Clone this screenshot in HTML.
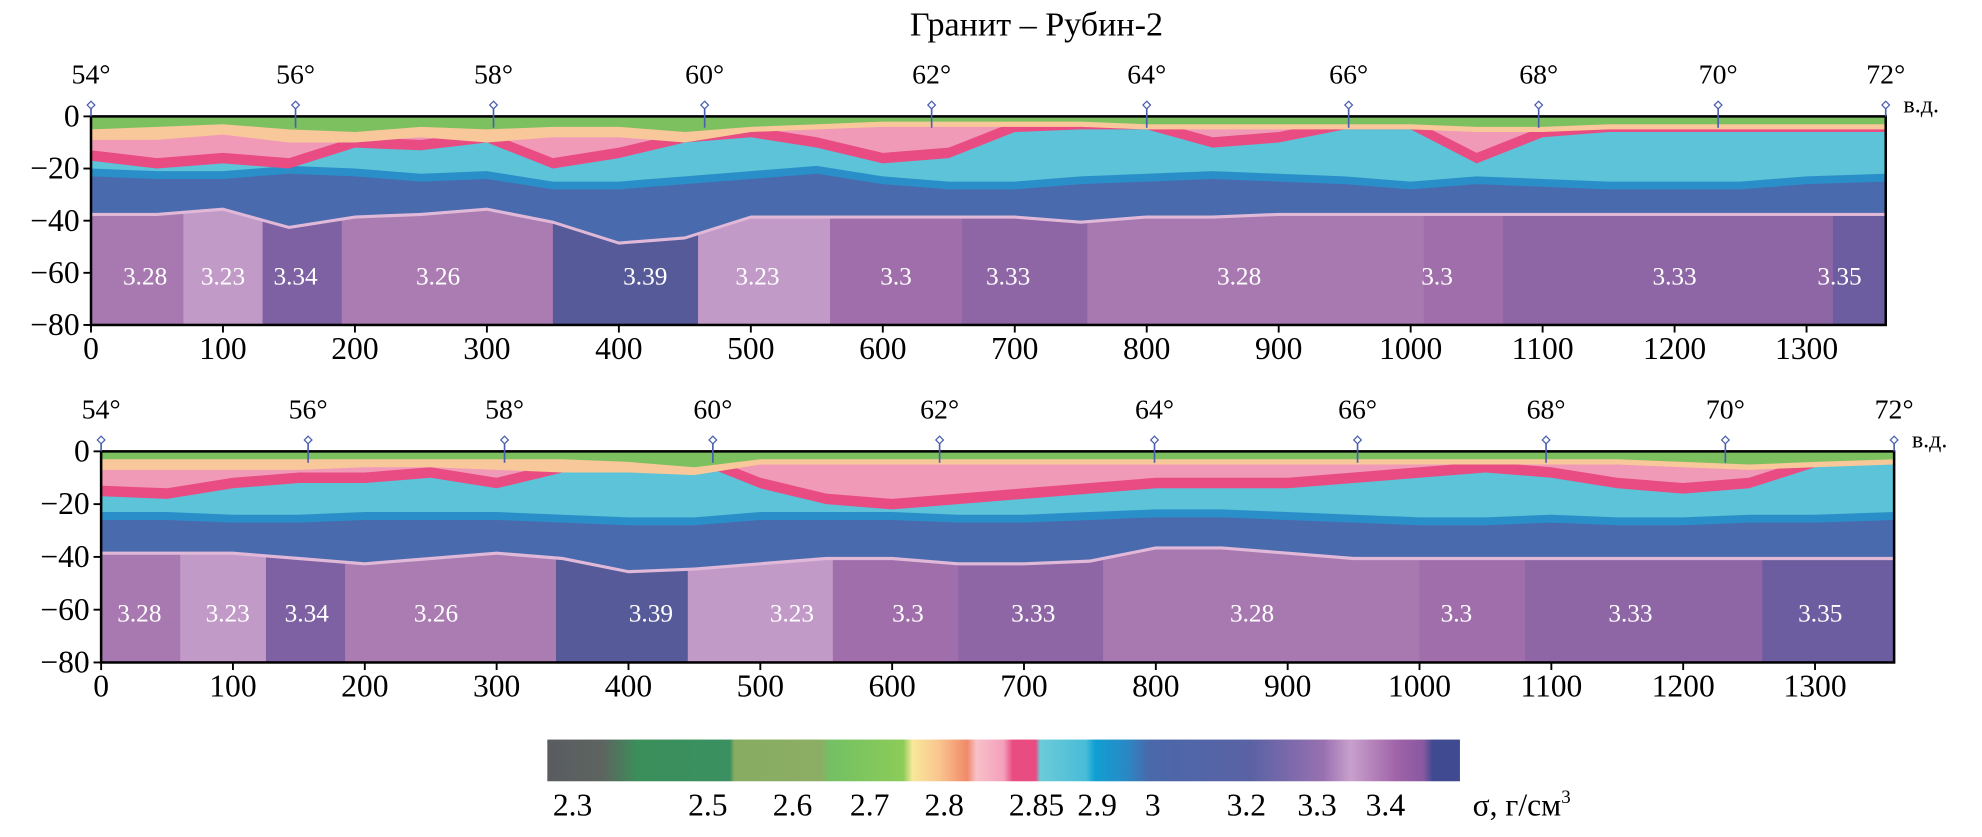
<!DOCTYPE html>
<html><head><meta charset="utf-8"><style>
html,body{margin:0;padding:0;background:#fff;}
svg, svg text{font-family:"Liberation Serif","DejaVu Serif",serif;}
svg{display:block;}
</style></head><body>
<svg id="chart" width="1982" height="837" viewBox="0 0 1568 662" xmlns="http://www.w3.org/2000/svg" font-family="Liberation Serif, DejaVu Serif, serif">
<defs>
<linearGradient id="cbar" x1="0" x2="1" y1="0" y2="0">
<stop offset="0" stop-color="#5a5c60"/><stop offset="0.06" stop-color="#5d6460"/>
<stop offset="0.1" stop-color="#3a8f5a"/><stop offset="0.2" stop-color="#3a9060"/>
<stop offset="0.205" stop-color="#86ac62"/><stop offset="0.3" stop-color="#8cae64"/>
<stop offset="0.31" stop-color="#74c064"/><stop offset="0.39" stop-color="#8ccc58"/>
<stop offset="0.4" stop-color="#f8e89a"/><stop offset="0.43" stop-color="#f9c48e"/>
<stop offset="0.46" stop-color="#f08a6a"/><stop offset="0.47" stop-color="#f8c0c8"/>
<stop offset="0.5" stop-color="#f4a0bc"/><stop offset="0.51" stop-color="#e84c80"/>
<stop offset="0.535" stop-color="#e84c80"/><stop offset="0.54" stop-color="#6ccbd8"/>
<stop offset="0.59" stop-color="#48bcd8"/><stop offset="0.6" stop-color="#10a0d4"/>
<stop offset="0.635" stop-color="#2a88c4"/><stop offset="0.66" stop-color="#4a68aa"/>
<stop offset="0.77" stop-color="#5a62a4"/><stop offset="0.85" stop-color="#9870b0"/>
<stop offset="0.88" stop-color="#c8a0cc"/><stop offset="0.93" stop-color="#a064a8"/>
<stop offset="0.96" stop-color="#8858a0"/><stop offset="0.97" stop-color="#404a90"/>
<stop offset="1" stop-color="#404a90"/>
</linearGradient>
</defs>
<text x="820" y="28" font-size="27" text-anchor="middle" font-family="Liberation Serif, serif">Гранит – Рубин-2</text>
<g id="panels"></g>
<g>
<rect x="433" y="585" width="722" height="33" fill="url(#cbar)"/>
</g>
<g id="cbticks"></g>
</svg>
<script>
const kmGrid = [0,50,100,150,200,250,300,350,400,450,500,550,600,650,700,750,800,850,900,950,1000,1050,1100,1150,1200,1250,1300,1360];
// top panel boundaries (depth km)
const topGreen = [5,4,3,5,6,4,5,4,4,6,4,3,2,2,2,2,3,3,3,3,3,4,4,3,3,3,3,3];
const topPeach = [9,9,7,10,10,8,10,8,8,10,6,5,4,4,4,4,5,5,5,5,5,6,6,5,5,5,5,5];
const topPink  = [17,20,18,20,12,13,10,20,16,10,8,12,18,16,6,5,5,12,10,5,5,18,8,6,6,6,6,6];
const topCyan  = [23,24,24,22,23,25,24,28,28,26,24,22,26,28,28,26,25,24,25,26,28,26,27,28,28,28,26,25];
const topMantle= [37,37,35,42,38,37,35,40,48,46,38,38,38,38,38,40,38,38,37,37,37,37,37,37,37,37,37,37];
// bottom panel boundaries
const botGreen = [3,3,3,3,3,3,3,3,4,6,3,3,3,3,3,3,3,3,3,3,3,3,3,3,4,5,4,3];
const botPeach = [7,7,7,7,6,6,7,8,8,9,5,5,5,5,5,5,5,5,5,5,5,5,5,5,6,7,6,5];
const botPink  = [17,18,14,12,12,10,14,8,6,4,14,20,22,20,18,16,14,14,14,12,10,8,10,14,16,14,6,4];
const botCyan  = [26,26,27,27,26,26,26,27,28,28,26,26,26,27,27,26,25,25,26,27,28,28,27,28,28,27,27,26];
const botMantle= [38,38,38,40,42,40,38,40,45,44,42,40,40,42,42,41,36,36,38,40,40,40,40,40,40,40,40,40];
// mantle blocks
const blockStart = [0,70,130,190,350,460,560,660,755,1010,1070,1320];
const blockEnd   = [70,130,190,350,460,560,660,755,1010,1070,1320,1360];
const blockVal   = [3.28,3.23,3.34,3.26,3.39,3.23,3.3,3.33,3.28,3.3,3.33,3.35];
const botBlockStart = [0,60,125,185,345,445,555,650,760,1000,1080,1260];
const botBlockEnd   = [60,125,185,345,445,555,650,760,1000,1080,1260,1360];
const labelKmTop = [41,100,155,263,420,505,610,695,870,1020,1200,1325];
const labelKmBot = [29,96,156,254,417,524,612,707,873,1028,1160,1304];
const xTicks = [0,100,200,300,400,500,600,700,800,900,1000,1100,1200,1300];
const yTicks = [0,-20,-40,-60,-80];
const degLabels = ["54°","56°","58°","60°","62°","64°","66°","68°","70°","72°"];
const degKmTop = [0,155,305,465,637,800,953,1097,1233,1360];
const degKmBot = [0,157,306,464,636,799,953,1096,1232,1360];
const cbLabels = ["2.3","2.5","2.6","2.7","2.8","2.85","2.9","3","3.2","3.3","3.4"];
const cbPos = [453,560,627,688,747,820,868,912,986,1042,1096];

const NS="http://www.w3.org/2000/svg";
const FF="Liberation Serif, DejaVu Serif, serif";
function mk(tag,attrs,parent){const e=document.createElementNS(NS,tag);for(const k in attrs)e.setAttribute(k,attrs[k]);if(tag==='text')e.setAttribute('font-family',FF);parent.appendChild(e);return e;}
function valColor(v){
  const stops=[[3.23,[194,154,200]],[3.26,[170,124,178]],[3.28,[168,120,176]],[3.3,[160,110,170]],[3.33,[142,102,166]],[3.35,[108,92,160]],[3.39,[86,90,152]]];
  if(v<=stops[0][0])return 'rgb('+stops[0][1]+')';
  for(let i=1;i<stops.length;i++){if(v<=stops[i][0]){const t=(v-stops[i-1][0])/(stops[i][0]-stops[i-1][0]);const c=stops[i-1][1].map((a,j)=>Math.round(a+(stops[i][1][j]-a)*t));return 'rgb('+c+')';}}
  return 'rgb('+stops[stops.length-1][1]+')';
}
const panels=document.getElementById('panels');
function drawPanel(cfg){
  const g=mk('g',{},panels);
  
  
  const X=km=>cfg.x0+km*cfg.pxPerKm;
  const Y=d=>cfg.y0+d*cfg.pxPerDepth;
  const xR=X(1360), yB=Y(80);
  for(let i=0;i<blockVal.length;i++){
    const r=mk('rect',{x:X(cfg.bs[i]),y:cfg.y0,width:X(cfg.be[i])-X(cfg.bs[i])+0.5,height:yB-cfg.y0,fill:valColor(blockVal[i])},g);
    
    
  }
  const layers=[[cfg.mantle,'#e0b8d8',1.2],[cfg.mantle,'#4a6aae',0],[cfg.cyan,'#2a8fc8',0],[cfg.cyan,'#5cc3d8',-3],[cfg.pink,'#e84c82',0],[cfg.pink,'#f09ab8',-4],[cfg.peach,'#f8c89a',0],[cfg.green,'#7cc060',0]];
  layers.forEach(([arr,col,off])=>{
    let d='M'+X(0)+','+cfg.y0;
    for(let i=0;i<kmGrid.length;i++)d+=' L'+X(kmGrid[i])+','+Y(Math.max(0,arr[i]+off));
    d+=' L'+xR+','+cfg.y0+' Z';
    const p=mk('path',{d:d,fill:col},g);
    
    
  });
  for(let i=0;i<blockVal.length;i++){
    const t=mk('text',{x:X(cfg.lk[i]),y:Y(64.5),'font-size':20,fill:'#fff','text-anchor':'middle'},g);
    t.textContent=blockVal[i];
    
    
  }
  const f=mk('rect',{x:X(0),y:cfg.y0,width:xR-X(0),height:yB-cfg.y0,fill:'none',stroke:'#000','stroke-width':2},g);
  
  
  xTicks.forEach(v=>{
    mk('line',{x1:X(v),x2:X(v),y1:yB,y2:yB+6,stroke:'#000','stroke-width':1.5},g);
    const t=mk('text',{x:X(v),y:yB+27,'font-size':25,'text-anchor':'middle'},g);
    t.textContent=v;
    
    
  });
  yTicks.forEach(v=>{
    const yy=Y(-v);
    mk('line',{x1:X(0)-6,x2:X(0),y1:yy,y2:yy,stroke:'#000','stroke-width':1.5},g);
    const t=mk('text',{x:X(0)-9,y:yy+8,'font-size':25,'text-anchor':'end'},g);
    t.textContent=v===0?'0':'\u2212'+(-v);
    
    
  });
  degLabels.forEach((s,i)=>{
    const xx=X(cfg.dk[i]);
    mk('line',{x1:xx,x2:xx,y1:cfg.y0-8,y2:(i===0||i===9)?cfg.y0:cfg.y0+9,stroke:'#4a5fb0','stroke-width':1.3},g);
    const m=mk('path',{d:`M${xx},${cfg.y0-12} l3,3 l-3,3 l-3,-3 Z`,fill:'#fff',stroke:'#4a5fb0','stroke-width':1},g);
    
    
    const t=mk('text',{x:xx,y:cfg.y0-26,'font-size':22,'text-anchor':'middle'},g);
    t.textContent=s;
    
    
  });
  const u=mk('text',{x:X(1360)+14,y:cfg.y0-3,'font-size':19},g);
  u.textContent='в.д.';
  
  
}
drawPanel({name:'top-section',x0:72,pxPerKm:1.044,y0:92,pxPerDepth:165/80,green:topGreen,peach:topPeach,pink:topPink,cyan:topCyan,mantle:topMantle,bs:blockStart,be:blockEnd,lk:labelKmTop,dk:degKmTop});
drawPanel({name:'bottom-section',x0:80,pxPerKm:1.043,y0:357,pxPerDepth:167/80,green:botGreen,peach:botPeach,pink:botPink,cyan:botCyan,mantle:botMantle,bs:botBlockStart,be:botBlockEnd,lk:labelKmBot,dk:degKmBot});
const cb=document.getElementById('cbticks');
cbLabels.forEach((s,i)=>{
  const t=mk('text',{x:cbPos[i],y:645,'font-size':25,'text-anchor':'middle'},cb);
  t.textContent=s;
  
  
});
const un=mk('text',{x:1165,y:645,'font-size':25},cb);
un.innerHTML='σ, г/см<tspan font-size="15" dy="-10">3</tspan>';


</script>
</body></html>
